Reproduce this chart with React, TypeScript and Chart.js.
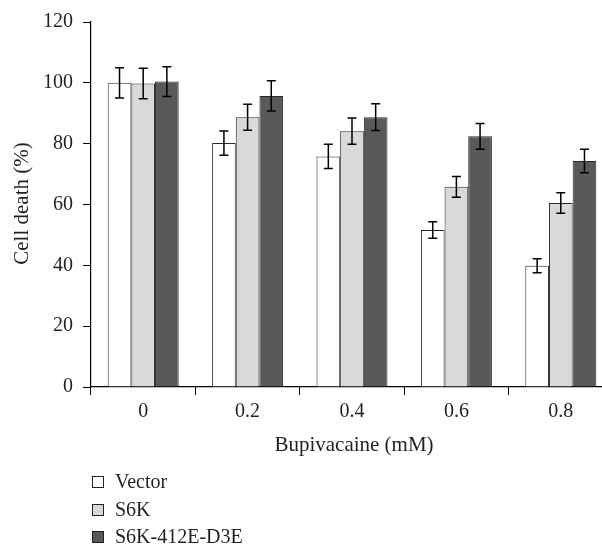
import React, { useEffect, useRef } from "react";
import { Chart, registerables } from "chart.js";

Chart.register(...registerables);

const categories = ["0", "0.2", "0.4", "0.6", "0.8"];
const seriesNames = ["Vector", "S6K", "S6K-412E-D3E"];
const vectorValues = [100, 80.2, 75.8, 51.6, 39.9];
const vectorErrors = [5, 4, 4, 2.7, 2.3];
const s6kValues = [99.8, 88.7, 84.1, 65.8, 60.5];
const s6kErrors = [5, 4.3, 4.3, 3.4, 3.4];
const mutantValues = [100.4, 95.7, 88.7, 82.4, 74.3];
const mutantErrors = [4.9, 5, 4.4, 4.2, 3.9];
const yTicks = [0, 20, 40, 60, 80, 100, 120];
const xTitle = "Bupivacaine (mM)";
const yTitle = "Cell death (%)";

const FONT = "'Liberation Serif', 'Times New Roman', serif";
const TEXT = "#231f20";

export default function App() {
  const ref = useRef<HTMLCanvasElement | null>(null);

  useEffect(() => {
    const canvas = ref.current;
    if (!canvas) return;

    const errors = [vectorErrors, s6kErrors, mutantErrors];

    const errorBars = {
      id: "errorBars",
      afterDatasetsDraw(chart: any) {
        const ctx = chart.ctx;
        const y = chart.scales.y;
        ctx.save();
        ctx.strokeStyle = "#000";
        ctx.lineWidth = 1.5;
        chart.data.datasets.forEach((ds: any, di: number) => {
          const meta = chart.getDatasetMeta(di);
          meta.data.forEach((bar: any, i: number) => {
            const v = ds.data[i];
            const e = errors[di][i];
            const yt = y.getPixelForValue(v + e);
            const yb = y.getPixelForValue(v - e);
            const x = bar.x;
            const cap = 4.5;
            ctx.beginPath();
            ctx.moveTo(x, yt);
            ctx.lineTo(x, yb);
            ctx.moveTo(x - cap, yt);
            ctx.lineTo(x + cap, yt);
            ctx.moveTo(x - cap, yb);
            ctx.lineTo(x + cap, yb);
            ctx.stroke();
          });
        });
        ctx.restore();
      },
    };

    const annotations = {
      id: "annotations",
      afterDraw(chart: any) {
        const ctx = chart.ctx;
        const area = chart.chartArea;
        ctx.save();
        ctx.fillStyle = TEXT;
        ctx.font = `21px ${FONT}`;
        ctx.textAlign = "center";
        ctx.textBaseline = "middle";
        ctx.fillText(xTitle, (area.left + area.right) / 2 + 2, 445);
        ctx.save();
        ctx.translate(22, (area.top + area.bottom) / 2 - 1);
        ctx.rotate(-Math.PI / 2);
        ctx.fillText(yTitle, 0, 0);
        ctx.restore();
        // legend
        const rows = [482, 510, 537];
        ctx.font = `20px ${FONT}`;
        chart.data.datasets.forEach((ds: any, di: number) => {
          const cy = rows[di];
          ctx.fillStyle = ds.backgroundColor;
          ctx.fillRect(92.5, cy - 5.5, 11, 11);
          ctx.strokeStyle = "#222";
          ctx.lineWidth = 1;
          ctx.strokeRect(92.5, cy - 5.5, 11, 11);
          ctx.fillStyle = TEXT;
          ctx.textAlign = "left";
          ctx.fillText(ds.label, 115, cy + 1);
        });
        ctx.restore();
      },
    };

    const chart = new Chart(canvas, {
      type: "bar",
      data: {
        labels: categories,
        datasets: [
          {
            label: seriesNames[0],
            data: vectorValues,
            backgroundColor: "#ffffff",
            borderColor: "#2a2a2a",
            borderWidth: 1,
          },
          {
            label: seriesNames[1],
            data: s6kValues,
            backgroundColor: "#d9d9d9",
            borderColor: "#2a2a2a",
            borderWidth: 1,
          },
          {
            label: seriesNames[2],
            data: mutantValues,
            backgroundColor: "#595959",
            borderColor: "#2a2a2a",
            borderWidth: 1,
          },
        ],
      },
      options: {
        responsive: false,
        animation: false,
        layout: { padding: { top: 20, right: 3, left: 0, bottom: 0 } },
        plugins: {
          legend: { display: false },
          tooltip: { enabled: false },
        },
        datasets: {
          bar: { categoryPercentage: 0.68, barPercentage: 1 },
        },
        scales: {
          x: {
            grid: {
              display: true,
              drawOnChartArea: false,
              drawTicks: true,
              tickLength: 8,
              color: "#000",
              offset: true,
            },
            border: { display: true, color: "#000", width: 1.2 },
            ticks: {
              color: TEXT,
              font: { family: FONT, size: 20 },
              padding: 5,
            },
            afterFit(scale: any) {
              scale.height = 159;
            },
          },
          y: {
            min: 0,
            max: 120,
            afterBuildTicks(scale: any) {
              scale.ticks = yTicks.map((v) => ({ value: v }));
            },
            grid: {
              display: true,
              drawOnChartArea: false,
              drawTicks: true,
              tickLength: 8,
              color: "#000",
            },
            border: { display: true, color: "#000", width: 1.2 },
            ticks: {
              color: TEXT,
              font: { family: FONT, size: 20 },
              padding: 10,
            },
            afterFit(scale: any) {
              scale.width = 91;
            },
          },
        },
      },
      plugins: [errorBars, annotations],
    });

    return () => chart.destroy();
  }, []);

  return (
    <div
      style={{
        position: "fixed",
        left: 0,
        top: 0,
        width: 602,
        height: 546,
        overflow: "hidden",
        background: "#fff",
      }}
    >
      <canvas ref={ref} width={616} height={546} style={{ display: "block" }} />
    </div>
  );
}
